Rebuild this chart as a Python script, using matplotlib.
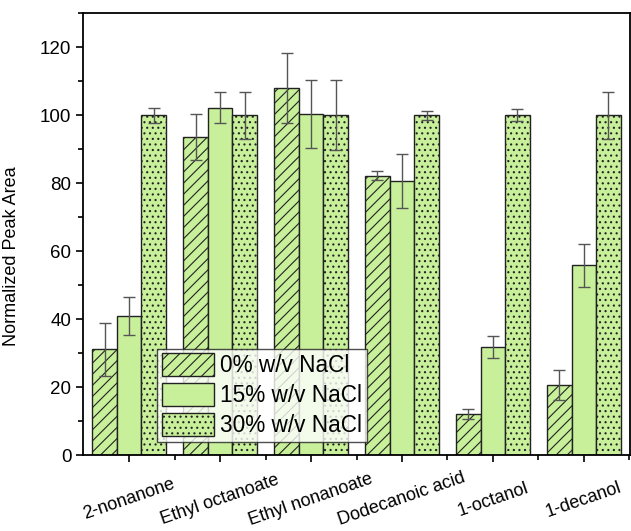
import numpy as np
import matplotlib
matplotlib.use('Agg')
import matplotlib.pyplot as plt
from matplotlib.transforms import ScaledTranslation

plt.rcParams['font.family'] = ['Liberation Sans', 'DejaVu Sans']
plt.rcParams['hatch.color'] = '#333333'
plt.rcParams['hatch.linewidth'] = 0.8

## data
compounds = ['2-nonanone', 'Ethyl octanoate', 'Ethyl nonanoate',
             'Dodecanoic acid', '1-octanol', '1-decanol']
series = ['0% w/v NaCl', '15% w/v NaCl', '30% w/v NaCl']

nacl_0 = [31.2, 93.7, 108.0, 82.2, 12.1, 20.6]
nacl_0_err = [7.8, 6.8, 10.2, 1.4, 1.4, 4.4]
nacl_15 = [40.9, 102.2, 100.4, 80.7, 31.8, 55.9]
nacl_15_err = [5.6, 4.6, 10.0, 7.9, 3.2, 6.3]
nacl_30 = [100, 100, 100, 100, 100, 100]
nacl_30_err = [2.2, 6.9, 10.3, 1.3, 1.7, 6.9]

bar_color = '#c8f09a'
hatches = ['///', None, '...']

fig, ax = plt.subplots(figsize=(6.31, 5.31), dpi=100)
fig.subplots_adjust(left=0.132, right=0.998, top=0.975, bottom=0.143)

x = np.arange(len(compounds))
w = 0.27
vals = [nacl_0, nacl_15, nacl_30]
errs = [nacl_0_err, nacl_15_err, nacl_30_err]
for i in range(3):
    ax.bar(x + (i - 1) * w, vals[i], w, color=bar_color, edgecolor='#222222',
           linewidth=1.0, hatch=hatches[i], label=series[i], zorder=2)
    ax.errorbar(x + (i - 1) * w, vals[i], yerr=errs[i], fmt='none',
                ecolor='#555555', elinewidth=1.0, capsize=4, capthick=1.0, zorder=3)

ax.set_xlim(-0.505, 5.505)
ax.set_ylim(0, 130)
ax.set_yticks(np.arange(0, 121, 20))
ax.set_yticks(np.arange(10, 131, 20), minor=True)
ax.set_xticks(x)
ax.set_xticks(x + 0.5, minor=True)
ax.set_xticklabels(compounds, rotation=19, ha='center', va='center',
                   rotation_mode='anchor', fontsize=13)
# labels sit a little right of the tick in the original
shift = ScaledTranslation(4 / 72, 0, fig.dpi_scale_trans)
for lbl in ax.get_xticklabels():
    lbl.set_transform(lbl.get_transform() + shift)
ax.tick_params(axis='y', labelsize=13.5)
ax.tick_params(which='major', direction='out', length=5, width=1.2)
ax.tick_params(which='minor', direction='out', length=3.5, width=1.2)
ax.tick_params(axis='x', which='major', pad=27)
for s in ax.spines.values():
    s.set_linewidth(1.3)

ax.set_ylabel('Normalized Peak Area', fontsize=13)
ax.yaxis.set_label_coords(-0.115, 0.45)

leg = ax.legend(loc='lower left', bbox_to_anchor=(0.135, 0.03), fontsize=16.3,
                frameon=True, fancybox=False, edgecolor='#222222',
                handlelength=2.3, handleheight=1.2, borderpad=0.2,
                labelspacing=0.25, handletextpad=0.3, borderaxespad=0)
leg.get_frame().set_linewidth(1.0)
leg.set_zorder(5)

fig.savefig('out.png', dpi=100)
